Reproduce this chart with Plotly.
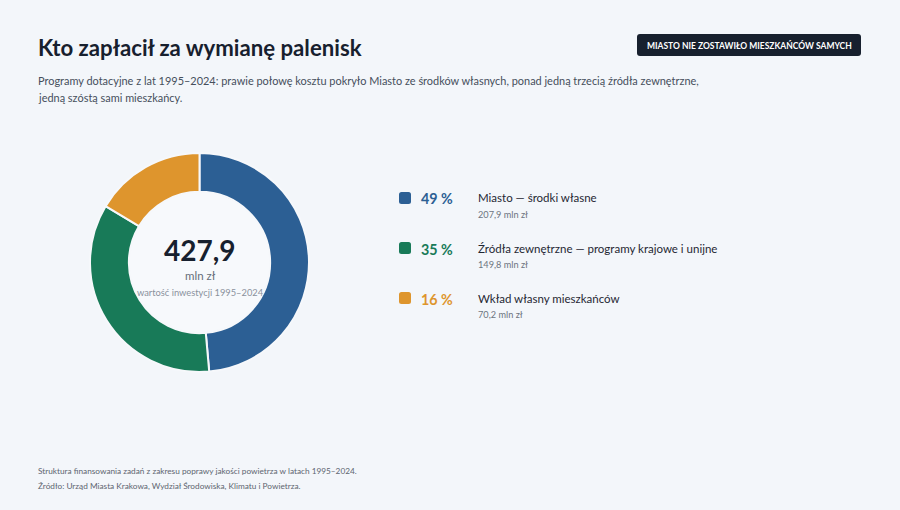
import plotly.graph_objects as go

W, H = 900, 510

categories = ["Miasto — środki własne",
              "Źródła zewnętrzne — programy krajowe i unijne",
              "Wkład własny mieszkańców"]
values = [207.9, 149.8, 70.2]
value_labels = ["207,9 mln zł", "149,8 mln zł", "70,2 mln zł"]
colors = ["#2c5f94", "#187a58", "#de952d"]
total_label = "427,9"

FONT = "Lato"
BG = "#f3f6fa"

def px(x):
    return x / W

def py(y):
    return 1 - y / H

def rrect(x0, y0, x1, y1, r):
    X = px
    Y = py
    return (f"M {X(x0+r)},{Y(y0)} L {X(x1-r)},{Y(y0)} Q {X(x1)},{Y(y0)} {X(x1)},{Y(y0+r)} "
            f"L {X(x1)},{Y(y1-r)} Q {X(x1)},{Y(y1)} {X(x1-r)},{Y(y1)} "
            f"L {X(x0+r)},{Y(y1)} Q {X(x0)},{Y(y1)} {X(x0)},{Y(y1-r)} "
            f"L {X(x0)},{Y(y0+r)} Q {X(x0)},{Y(y0)} {X(x0+r)},{Y(y0)} Z")

fig = go.Figure()
fig.add_trace(go.Pie(
    labels=categories, values=values, sort=False, direction="clockwise",
    rotation=0, hole=0.645,
    marker=dict(colors=colors, line=dict(color="#f6f8fb", width=2)),
    textinfo="none", hoverinfo="label+value+percent", showlegend=False,
    domain=dict(x=[px(90), px(309)], y=[py(372), py(153)]),
))

shapes = []
ann = []

def text(x, y, s, size, color, bold=False, anchor="left"):
    if anchor == "left":
        x -= 2
    f = dict(family=FONT, size=size, color=color)
    ann.append(dict(x=px(x), y=py(y), xref="paper", yref="paper", text=(f"<b>{s}</b>" if bold else s),
                    showarrow=False, xanchor=anchor, yanchor="middle", font=f))

# soft lighter area in the donut hole
shapes.append(dict(type="circle", xref="paper", yref="paper",
                   x0=px(129), x1=px(270), y0=py(332), y1=py(192),
                   fillcolor="#f7f9fc", line=dict(width=0), layer="below"))

# Title & subtitle
text(38, 47, "Kto zapłacił za wymianę palenisk", 22.2, "#17202e", bold=True)
text(38, 80, "Programy dotacyjne z lat 1995–2024: prawie połowę kosztu pokryło Miasto ze środków własnych, ponad jedną trzecią źródła zewnętrzne,", 10.95, "#464f5c")
text(38, 98, "jedną szóstą sami mieszkańcy.", 10.95, "#464f5c")

# Badge
shapes.append(dict(type="path", path=rrect(637, 34, 861, 56, 3), xref="paper", yref="paper",
                   fillcolor="#17202e", line=dict(width=0)))
text(749, 45.5, "MIASTO NIE ZOSTAWIŁO MIESZKAŃCÓW SAMYCH", 8.5, "#ffffff", bold=True, anchor="center")

# Center of donut
text(200, 250, total_label, 28, "#17202e", bold=True, anchor="center")
text(200, 275, "mln zł", 11.5, "#666e7a", anchor="center")
text(200, 292, "wartość inwestycji 1995–2024", 9.3, "#8a919c", anchor="center")

# Legend
total = sum(values)
ys = [198, 248, 298]
for i, (cat, v, vl, c) in enumerate(zip(categories, values, value_labels, colors)):
    y = ys[i]
    shapes.append(dict(type="path", path=rrect(399, y - 6, 411, y + 6, 2.5), xref="paper", yref="paper",
                       fillcolor=c, line=dict(width=0)))
    pct = round(v / total * 100)
    text(455, y + 1, f"{pct} %", 14.3, c, bold=True, anchor="right")
    text(478, y, cat, 11.5, "#1f2733")
    text(478, y + 16, vl, 9.2, "#6d747f")

# Footer
text(38, 471, "Struktura finansowania zadań z zakresu poprawy jakości powietrza w latach 1995–2024.", 8.25, "#5d6570")
text(38, 486, "Źródło: Urząd Miasta Krakowa, Wydział Środowiska, Klimatu i Powietrza.", 8.25, "#5d6570")

fig.update_layout(
    width=W, height=H, margin=dict(l=0, r=0, t=0, b=0),
    paper_bgcolor=BG, plot_bgcolor=BG,
    shapes=shapes, annotations=ann, font=dict(family=FONT),
)

fig.write_html("out.html", config={"displayModeBar": False},
               post_script="document.body.style.margin='0';document.body.style.background='%s';" % BG)
